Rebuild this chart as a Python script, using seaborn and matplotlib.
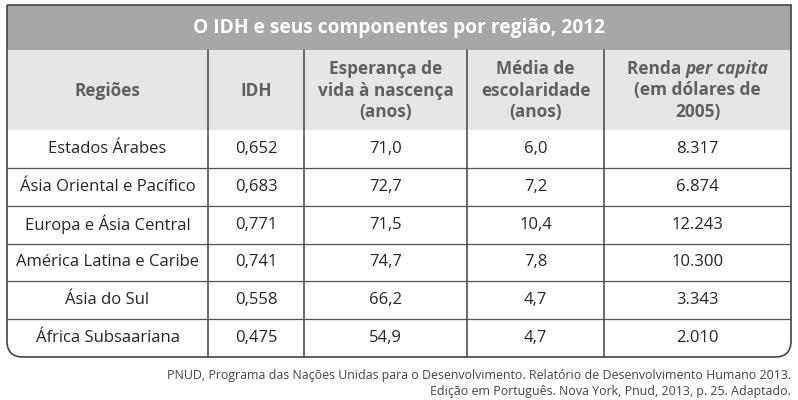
import matplotlib
matplotlib.use("Agg")
import matplotlib.pyplot as plt
import seaborn as sns
from matplotlib.path import Path
from matplotlib.patches import PathPatch, Rectangle

# Table data
title = "O IDH e seus componentes por região, 2012"
regioes = ["Estados Árabes", "Ásia Oriental e Pacífico", "Europa e Ásia Central",
           "América Latina e Caribe", "Ásia do Sul", "África Subsaariana"]
idh = ["0,652", "0,683", "0,771", "0,741", "0,558", "0,475"]
esperanca = ["71,0", "72,7", "71,5", "74,7", "66,2", "54,9"]
escolaridade = ["6,0", "7,2", "10,4", "7,8", "4,7", "4,7"]
renda = ["8.317", "6.874", "12.243", "10.300", "3.343", "2.010"]
cabecalhos = [["Regiões"], ["IDH"], ["Esperança de", "vida à nascença", "(anos)"],
              ["Média de", "escolaridade", "(anos)"], [None, "(em dólares de", "2005)"]]
fonte = ["PNUD, Programa das Nações Unidas para o Desenvolvimento. Relatório de Desenvolvimento Humano 2013.",
         "Edição em Português. Nova York, Pnud, 2013, p. 25. Adaptado."]

sns.set_theme(style="white")
plt.rcParams['font.family'] = ['Open Sans', 'DejaVu Sans']

fig = plt.figure(figsize=(7.98, 4.0), dpi=100)
ax = fig.add_axes([0, 0, 1, 1])
ax.set_xlim(0, 798)
ax.set_ylim(400, 0)
ax.axis("off")

# layout (pixels)
left, right, top, bottom = 7, 791, 5, 357
title_bot, head_bot = 50, 130
col_edges = [left, 208, 304, 467, 604, right]
row_h = (bottom - head_bot) / len(regioes)
centers = [(col_edges[i] + col_edges[i + 1]) / 2 for i in range(5)]

ax.add_patch(Rectangle((left, top), right - left, title_bot - top, color="#a7a7a7", lw=0))
ax.add_patch(Rectangle((left, title_bot), right - left, head_bot - title_bot, color="#e6e6e6", lw=0))

# row separators
for i in range(1, len(regioes)):
    y = head_bot + i * row_h
    ax.plot([left, right], [y, y], color="#555555", lw=0.9)
# column lines
for x in col_edges[1:-1]:
    ax.plot([x, x], [title_bot, bottom], color="#444444", lw=1.1)

# outer border with rounded bottom corners
r = 16
verts = [(left, top), (right, top), (right, bottom - r), (right, bottom), (right - r, bottom),
         (left + r, bottom), (left, bottom), (left, bottom - r), (left, top)]
codes = [Path.MOVETO, Path.LINETO, Path.LINETO, Path.CURVE3, Path.CURVE3,
         Path.LINETO, Path.CURVE3, Path.CURVE3, Path.LINETO]
ax.add_patch(PathPatch(Path(verts, codes), fill=False, edgecolor="#444444", lw=1.2))

ax.text(399, 28, title, ha="center", va="center", color="white", fontsize=13.8, fontweight="bold")

hc = "#606060"
hs = 12.4
line_y = [69, 90.5, 112]
for j, lines in enumerate(cabecalhos):
    if len(lines) == 1:
        ax.text(centers[j], line_y[1], lines[0], ha="center", va="center",
                color=hc, fontsize=hs, fontweight="bold")
        continue
    for k, txt in enumerate(lines):
        if txt:
            ax.text(centers[j], line_y[k], txt, ha="center", va="center",
                    color=hc, fontsize=hs, fontweight="bold")

# "Renda per capita" with italic part
fig.canvas.draw()
renderer = fig.canvas.get_renderer()
t1 = ax.text(0, line_y[0], "Renda ", ha="left", va="center", color=hc, fontsize=hs, fontweight="bold")
t2 = ax.text(0, line_y[0], "per capita", ha="left", va="center", color=hc, fontsize=hs,
             fontweight="bold", style="italic")
w1 = t1.get_window_extent(renderer).width
w2 = t2.get_window_extent(renderer).width
x0 = centers[4] - (w1 + w2) / 2
t1.set_x(x0)
t2.set_x(x0 + w1)

bs = 12
cols = [regioes, idh, esperanca, escolaridade, renda]
for j, col in enumerate(cols):
    for i, val in enumerate(col):
        y = head_bot + (i + 0.5) * row_h
        ax.text(centers[j], y, val, ha="center", va="center", color="#262626", fontsize=bs)

for k, line in enumerate(fonte):
    ax.text(791, 376 + k * 16, line, ha="right", va="center", color="#444444", fontsize=8.9)

fig.savefig("out.png", dpi=100)
